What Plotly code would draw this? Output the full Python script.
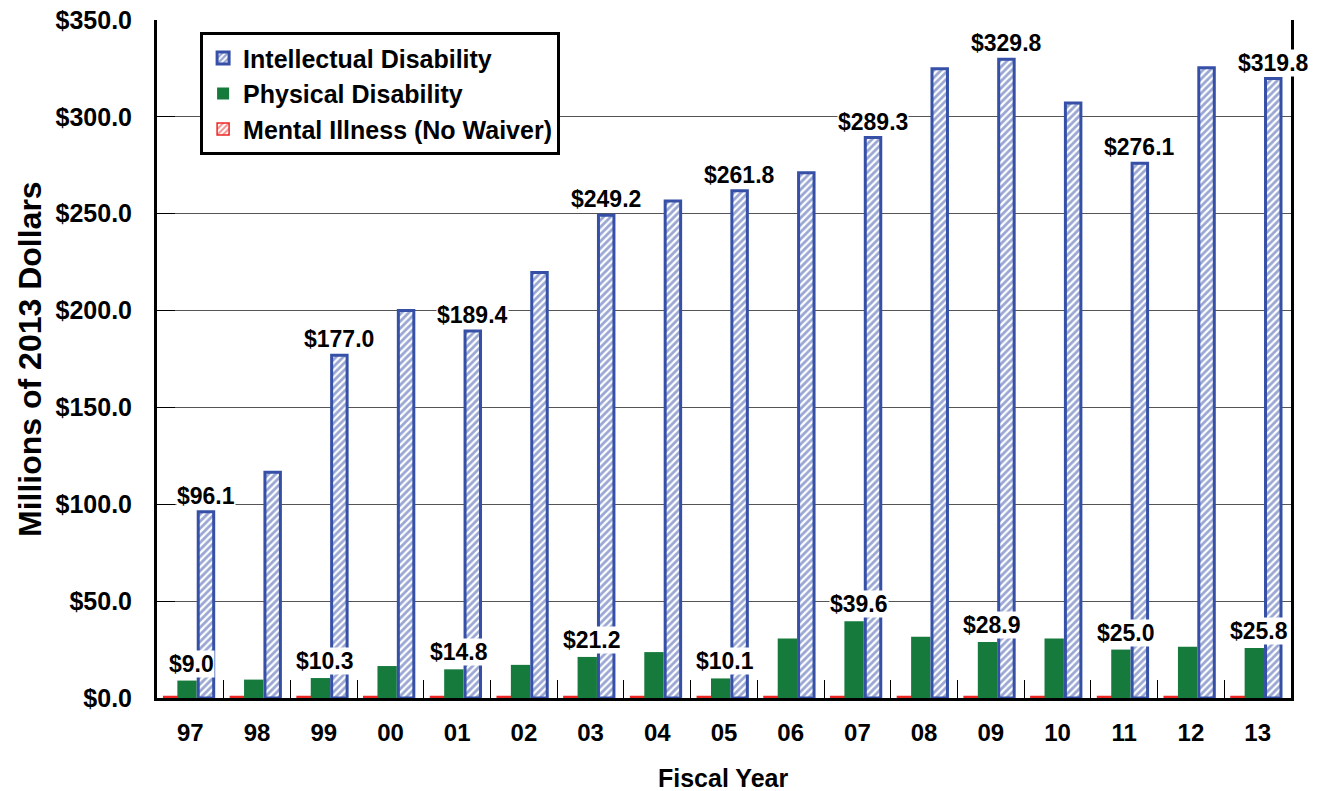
import plotly.graph_objects as go

years = ["97", "98", "99", "00", "01", "02", "03", "04", "05", "06", "07", "08", "09", "10", "11", "12", "13"]
intellectual = [96.1, 116.6, 177.0, 200.1, 189.4, 219.6, 249.2, 256.6, 261.8, 271.1, 289.3, 324.8, 329.8, 307.2, 276.1, 325.3, 319.8]
physical = [9.0, 9.5, 10.3, 16.5, 14.8, 17.1, 21.2, 23.7, 10.1, 30.7, 39.6, 31.6, 28.9, 30.7, 25.0, 26.4, 25.8]
mental = [0.8, 0.8, 0.8, 0.8, 0.8, 0.8, 0.8, 0.8, 0.8, 0.8, 0.8, 0.8, 0.8, 0.8, 0.8, 0.8, 0.8]
labeled_years = ["97", "99", "01", "03", "05", "07", "09", "11", "13"]

BLUE = "#3550a6"
GREEN = "#167a3d"
RED = "#ec2724"
FONT = "Arial, Liberation Sans, sans-serif"

fig = go.Figure()
fig.add_trace(go.Bar(
    x=years, y=mental, name="Mental Illness (No Waiver)",
    offset=-0.40, width=0.21,
    marker=dict(color="white", line=dict(color=RED, width=1.5),
                pattern=dict(shape="/", fgcolor=RED, bgcolor="white", size=5, solidity=0.5)),
))
fig.add_trace(go.Bar(
    x=years, y=physical, name="Physical Disability",
    offset=-0.195, width=0.29,
    marker=dict(color=GREEN, line=dict(width=0)),
))
fig.add_trace(go.Bar(
    x=years, y=intellectual, name="Intellectual Disability",
    offset=0.118, width=0.232,
    marker=dict(color="white", line=dict(color=BLUE, width=3),
                pattern=dict(shape="/", fgcolor=BLUE, bgcolor="white", size=5, solidity=0.55)),
))

annotations = []
for i, yr in enumerate(years):
    if yr in labeled_years:
        annotations.append(dict(
            x=i + 0.234, y=intellectual[i], xref="x", yref="y",
            text="$%.1f" % intellectual[i], showarrow=False,
            yanchor="bottom", yshift=2, bgcolor="white", borderpad=0,
            font=dict(family=FONT, size=23, color="black", weight="bold"),
        ))
        annotations.append(dict(
            x=i + 0.02, y=physical[i], xref="x", yref="y",
            text="$%.1f" % physical[i], showarrow=False,
            yanchor="bottom", yshift=3, bgcolor="white", borderpad=0,
            font=dict(family=FONT, size=23, color="black", weight="bold"),
        ))

annotations.append(dict(
    x=0.499, y=-0.118, xref="paper", yref="paper", text="Fiscal Year",
    showarrow=False, xanchor="center", yanchor="middle",
    font=dict(family=FONT, size=25, color="black", weight="bold"),
))
annotations.append(dict(
    x=-0.112, y=0.5, xref="paper", yref="paper", text="Millions of 2013 Dollars",
    showarrow=False, xanchor="center", yanchor="middle", textangle=-90,
    font=dict(family=FONT, size=32, color="black", weight="bold"),
))

fig.update_layout(
    width=1319, height=791,
    margin=dict(l=157, r=28, t=20, b=93),
    paper_bgcolor="white", plot_bgcolor="white",
    barmode="overlay",
    showlegend=True,
    legend=dict(
        x=0.038, y=0.982, xanchor="left", yanchor="top",
        bgcolor="white", bordercolor="black", borderwidth=3,
        traceorder="reversed",
        font=dict(family=FONT, size=25, color="black", weight="bold"),
    ),
    annotations=annotations,
    xaxis=dict(
        type="category", range=[-0.5, 16.5], automargin=False,
        tickson="boundaries", ticks="inside", ticklen=18, tickwidth=1, tickcolor="black",
        showline=True, linewidth=3, linecolor="black", showgrid=False,
        tickfont=dict(family=FONT, size=24, color="black", weight="bold"),
        ticklabelstandoff=11,
    ),
    yaxis=dict(
        range=[0, 350], dtick=50, tickprefix="$", tickformat=".1f", automargin=False,
        showgrid=True, gridcolor="#555555", gridwidth=1, zeroline=False,
        showline=True, linewidth=3, linecolor="black", mirror=True,
        ticks="inside", ticklen=18, tickwidth=1, tickcolor="black",
        tickfont=dict(family=FONT, size=25, color="black", weight="bold"),
        ticklabelstandoff=17, ticklabeloverflow="allow",
    ),
)

# remove the default 8px page margin so the figure fills the window exactly
fig.write_html("out.html", config={"displayModeBar": False},
               post_script="document.body.style.margin='0';")
